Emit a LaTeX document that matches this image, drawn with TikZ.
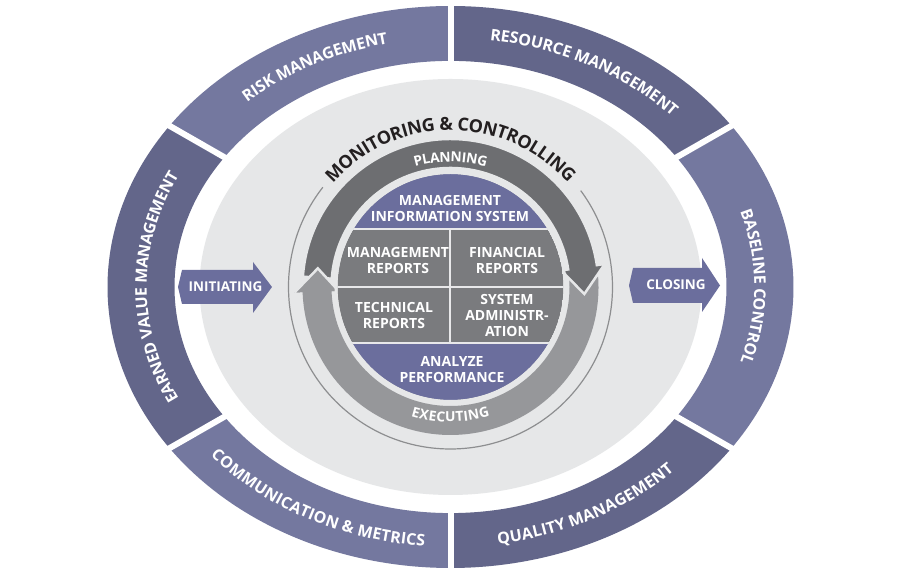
\documentclass[tikz,border=0pt]{standalone}
\usepackage{fontspec}
\setmainfont{Open Sans}
\usetikzlibrary{decorations.text,calc}
\definecolor{ringL}{HTML}{74789F}
\definecolor{ringD}{HTML}{63668A}
\definecolor{discP}{HTML}{6B6E9D}
\definecolor{midG}{HTML}{7A7B7E}
\definecolor{arrD}{HTML}{6D6E71}
\definecolor{arrL}{HTML}{96979A}
\definecolor{bgE}{HTML}{E6E7E8}
\definecolor{outl}{HTML}{8D8E90}
\definecolor{txtD}{HTML}{231F20}
\definecolor{sepC}{HTML}{E8E8EA}
\newcommand\ringfnt{\fontsize{16}{16}\selectfont\bfseries}
\newcommand\mcfnt{\fontsize{18}{18}\selectfont\bfseries}
\newcommand\arcfnt{\fontsize{13.8}{13.8}\selectfont\bfseries}
\tikzset{
  disctext/.style={text=white, align=center, inner sep=0pt, font=\fontsize{14}{16}\selectfont\bfseries},
  flowtext/.style={text=white, inner sep=0pt, font=\fontsize{13.5}{16}\selectfont\bfseries},
  flowarrow/.style={fill=discP},
  gapline/.style={white, line width=6pt},
  sepline/.style={sepC, line width=2pt}
}
\begin{document}
\begin{tikzpicture}[x=1pt,y=1pt]
\useasboundingbox (0,0) rectangle (900,580);
\fill[white] (0,0) rectangle (900,580);
\coordinate (C) at (450.5,293);

% outer ring segments
\foreach \a/\b/\c in {90/145/ringL, 35/90/ringD, -35/35/ringL, -90/-35/ringD, 215/270/ringL, 145/215/ringD}
  \fill[\c] ([shift={(C)}]\a:343 and 281) arc[start angle=\a, end angle=\b, x radius=343, y radius=281]
     -- ([shift={(C)}]\b:276 and 226.1) arc[start angle=\b, end angle=\a, x radius=276, y radius=226.1] -- cycle;
\foreach \a in {90,35,-35,-90,215,145}
  \draw[gapline] ([shift={(C)}]\a:266 and 218) -- ([shift={(C)}]\a:354 and 290);

% ring texts
\path[decorate, decoration={text along path, text={|\ringfnt|RISK MANAGEMENT}, text align=center, text color=white, raise=-5.7pt}]
  ([shift={(C)}]145:309.5 and 254.5) arc[start angle=145, end angle=90, x radius=309.5, y radius=254.5];
\path[decorate, decoration={text along path, text={|\ringfnt|RESOURCE MANAGEMENT}, text align=center, text color=white, raise=-5.7pt}]
  ([shift={(C)}]90:309.5 and 254.5) arc[start angle=90, end angle=35, x radius=309.5, y radius=254.5];
\path[decorate, decoration={text along path, text={|\ringfnt|BASELINE CONTROL}, text align=center, text color=white, raise=-5.7pt}]
  ([shift={(C)}]35:309.5 and 254.5) arc[start angle=35, end angle=-35, x radius=309.5, y radius=254.5];
\path[decorate, decoration={text along path, text={|\ringfnt|QUALITY MANAGEMENT}, text align=center, text color=white, raise=-5.7pt}]
  ([shift={(C)}]-90:309.5 and 254.5) arc[start angle=-90, end angle=-35, x radius=309.5, y radius=254.5];
\path[decorate, decoration={text along path, text={|\ringfnt|COMMUNICATION {\&} METRICS}, text align=center, text color=white, raise=-5.7pt}]
  ([shift={(C)}]215:309.5 and 254.5) arc[start angle=215, end angle=270, x radius=309.5, y radius=254.5];
\path[decorate, decoration={text along path, text={|\ringfnt|EARNED VALUE MANAGEMENT}, text align=center, text color=white, raise=-5.7pt}]
  ([shift={(C)}]215:309.5 and 254.5) arc[start angle=215, end angle=145, x radius=309.5, y radius=254.5];

% inner grey ellipse
\fill[bgE] (C) ellipse[x radius=251, y radius=208];

% initiating / closing arrows
\fill[flowarrow] (182,310) -- (253,310) -- (253,318) -- (272,293) -- (253,267) -- (253,276) -- (182,276) -- (178,293) -- cycle;
\node[flowtext] (init) at (225.5,293.5) {INITIATING};
\fill[flowarrow] (633,312) -- (702,312) -- (702,322) -- (720,294.5) -- (702,268) -- (702,277) -- (633,277) -- (629,294.5) -- cycle;
\node[flowtext] (close) at (676,295) {CLOSING};

% thin outline arc
\draw[outl, line width=1.2pt] ([shift={(C)}]142:162) arc[start angle=142, end angle=396.5, radius=162];

% circular arrows
\fill[arrL] ([shift={(C)}]4:148) arc[start angle=4, end angle=-178, radius=148]
  -- ([shift={(C)}]-178:156) -- ([shift={(C)}]-188:134) -- ([shift={(C)}]-178:112)
  -- ([shift={(C)}]-178:119) arc[start angle=-178, end angle=4, radius=119] -- cycle;
\filldraw[fill=arrD, draw=bgE, line width=2.5pt] ([shift={(C)}]176:148) arc[start angle=176, end angle=8.5, radius=148]
  -- ([shift={(C)}]8.5:156) -- ([shift={(C)}]-3:134) -- ([shift={(C)}]8.5:112)
  -- ([shift={(C)}]8.5:119) arc[start angle=8.5, end angle=176, radius=119] -- cycle;
\fill[arrL] ([shift={(C)}]182:156) -- ([shift={(C)}]172:134) -- ([shift={(C)}]182:112) -- cycle;
\draw[bgE, line width=2.5pt] ([shift={(C)}]182:156) -- ([shift={(C)}]172:134) -- ([shift={(C)}]182:112);

% arc labels
\path[decorate, decoration={text along path, text={|\arcfnt|PLANNING}, text align=center, text color=white, raise=-4.9pt}]
  ([shift={(C)}]130:130) arc[start angle=130, end angle=50, radius=130];
\path[decorate, decoration={text along path, text={|\arcfnt|EXECUTING}, text align=center, text color=white, raise=-4.9pt}]
  ([shift={(C)}]230:130) arc[start angle=230, end angle=310, radius=130];
\path[decorate, decoration={text along path, text={|\mcfnt|MONITORING {\&} CONTROLLING}, text align=center, text color=txtD, raise=-6.4pt}]
  ([shift={(C)}]155:163) arc[start angle=155, end angle=25, radius=163];

% central disc
\begin{scope}
  \clip (C) circle[radius=113];
  \fill[midG] (C) circle[radius=113];
  \fill[discP] ($(C)+(-120,58)$) rectangle ($(C)+(120,120)$);
  \fill[discP] ($(C)+(-120,-120)$) rectangle ($(C)+(120,-56)$);
  \draw[sepline] ($(C)+(-120,58)$) -- ($(C)+(120,58)$);
  \draw[sepline] ($(C)+(-120,-56)$) -- ($(C)+(120,-56)$);
  \draw[sepline] ($(C)+(-0.5,-56)$) -- ($(C)+(-0.5,58)$);
  \draw[sepline] ($(C)+(-120,0)$) -- ($(C)+(120,0)$);
\end{scope}
\draw[bgE, line width=3pt] (C) circle[radius=114.5];

\node[disctext] (mis) at (450,371) {MANAGEMENT\\INFORMATION SYSTEM};
\node[disctext] (mrep) at (398,319) {MANAGEMENT\\REPORTS};
\node[disctext] (frep) at (507,319) {FINANCIAL\\REPORTS};
\node[disctext] (trep) at (394,264) {TECHNICAL\\REPORTS};
\node[disctext] (sadm) at (507,264) {SYSTEM\\ADMINISTR-\\ATION};
\node[disctext] (aperf) at (452,210) {ANALYZE\\PERFORMANCE};
\end{tikzpicture}
\end{document}
